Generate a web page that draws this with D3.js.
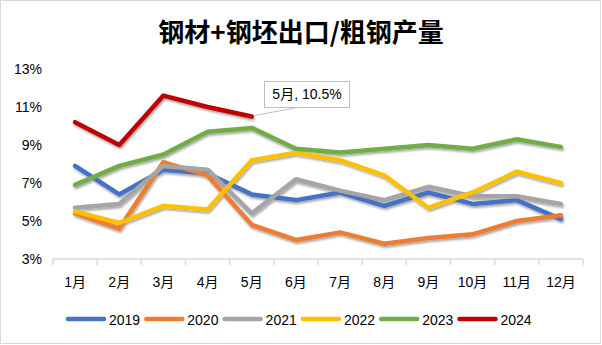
<!DOCTYPE html>
<html>
<head>
<meta charset="utf-8">
<script src="https://cdn.jsdelivr.net/npm/d3@7"></script>
<style>
  html, body { margin: 0; padding: 0; background: #fff; }
  svg { display: block; }
  text { font-family: "Liberation Sans", "Noto Sans CJK SC", sans-serif; fill: #000; }
</style>
</head>
<body>
<svg id="chart" width="602" height="345"></svg>
<script>
// Monthly ratio of steel + billet exports to crude steel output (%)
const months = ["1月","2月","3月","4月","5月","6月","7月","8月","9月","10月","11月","12月"];
const years = ["2019","2020","2021","2022","2023","2024"];
const colors = ["#4472C4","#ED7D31","#A5A5A5","#FFC000","#70AD47","#C00000"];
const s2019 = [7.9, 6.4, 7.7, 7.5, 6.4, 6.1, 6.5, 5.8, 6.5, 5.9, 6.1, 5.1];
const s2020 = [5.4, 4.6, 8.1, 7.4, 4.8, 4.0, 4.4, 3.8, 4.1, 4.3, 5.0, 5.3];
const s2021 = [5.7, 5.9, 7.9, 7.7, 5.4, 7.2, 6.6, 6.1, 6.8, 6.3, 6.3, 5.9];
const s2022 = [5.5, 4.9, 5.8, 5.6, 8.2, 8.6, 8.2, 7.4, 5.7, 6.5, 7.6, 7.0];
const s2023 = [6.9, 7.9, 8.5, 9.7, 9.9, 8.8, 8.6, 8.8, 9.0, 8.8, 9.3, 8.9];
const s2024 = [10.2, 9.0, 11.6, 11.0, 10.5];
const yTicks = [3, 5, 7, 9, 11, 13];
const series = [s2019, s2020, s2021, s2022, s2023, s2024];

const svg = d3.select("#chart");

// outer frame
svg.append("rect").attr("x", 0.5).attr("y", 0.5).attr("width", 600).attr("height", 343)
  .attr("fill", "#fff").attr("stroke", "#D9D9D9");

// soft shadow under the lines
const defs = svg.append("defs");
const f = defs.append("filter").attr("id", "shadow")
  .attr("x", "-10%").attr("y", "-10%").attr("width", "120%").attr("height", "130%");
f.append("feDropShadow").attr("dx", 1).attr("dy", 2).attr("stdDeviation", 1)
  .attr("flood-color", "#000").attr("flood-opacity", 0.35);

// title
svg.append("text").attr("x", 301).attr("y", 42).attr("text-anchor", "middle")
  .style("font-family", "'Noto Sans CJK SC', sans-serif")
  .style("font-size", "26px").style("font-weight", "bold")
  .text("钢材+钢坯出口/粗钢产量");

const x = d3.scaleBand().domain(months).range([53, 583]);
const y = d3.scaleLinear().domain([3, 13]).range([259, 69]);

// y axis labels (no line, no gridlines)
const yAxis = d3.axisLeft(y).tickValues(yTicks).tickFormat(d => d + "%").tickSize(0).tickPadding(0);
const gy = svg.append("g").attr("transform", "translate(42,0)").call(yAxis);
gy.select(".domain").remove();
gy.selectAll("text").style("font-size", "14px").attr("dy", "0.35em");

// x axis with boundary ticks between categories
const gx = svg.append("g").attr("transform", "translate(0,259)");
gx.append("line").attr("x1", 53).attr("x2", 583).attr("y1", 0).attr("y2", 0)
  .attr("stroke", "#D9D9D9").attr("stroke-width", 1.5);
const bounds = months.map(m => x(m)).concat([x.range()[1]]);
gx.selectAll("line.tk").data(bounds).enter().append("line").attr("class", "tk")
  .attr("x1", d => d).attr("x2", d => d).attr("y1", 0).attr("y2", 6)
  .attr("stroke", "#D9D9D9").attr("stroke-width", 1.5);
gx.selectAll("text").data(months).enter().append("text")
  .attr("x", d => x(d) + x.bandwidth() / 2).attr("y", 28)
  .attr("text-anchor", "middle").style("font-size", "14px")
  .text(d => d);

// series lines
const line = d3.line()
  .x((d, i) => x(months[i]) + x.bandwidth() / 2)
  .y(d => y(d));
const gl = svg.append("g").attr("filter", "url(#shadow)");
series.forEach((s, k) => {
  gl.append("path").datum(s).attr("d", line)
    .attr("fill", "none").attr("stroke", colors[k]).attr("stroke-width", 4.5)
    .attr("stroke-linejoin", "round").attr("stroke-linecap", "round");
});

// callout for the latest 2024 value
const li = s2024.length - 1;
const px = x(months[li]) + x.bandwidth() / 2, py = y(s2024[li]);
const bx = 264, bw = 85, by = 81, bh = 26;
svg.append("line").attr("x1", px + 3).attr("y1", py - 1).attr("x2", bx + 36).attr("y2", by + bh)
  .attr("stroke", "#BFBFBF").attr("stroke-width", 1);
svg.append("rect").attr("x", bx + 0.5).attr("y", by + 0.5).attr("width", bw).attr("height", bh)
  .attr("fill", "#fff").attr("stroke", "#BFBFBF");
svg.append("text").attr("x", bx + bw / 2 + 0.5).attr("y", by + bh / 2 + 5)
  .attr("text-anchor", "middle").style("font-size", "14px")
  .text(months[li] + ", " + s2024[li].toFixed(1) + "%");

// legend
const lg = svg.append("g").attr("transform", "translate(68,319)");
years.forEach((yr, k) => {
  const g = lg.append("g").attr("transform", `translate(${k * 78.3},0)`);
  g.append("line").attr("x1", 0).attr("x2", 36).attr("y1", 0).attr("y2", 0)
    .attr("stroke", colors[k]).attr("stroke-width", 4.5).attr("stroke-linecap", "round");
  g.append("text").attr("x", 41).attr("y", 5.5).style("font-size", "14px").text(yr);
});
</script>
</body>
</html>
